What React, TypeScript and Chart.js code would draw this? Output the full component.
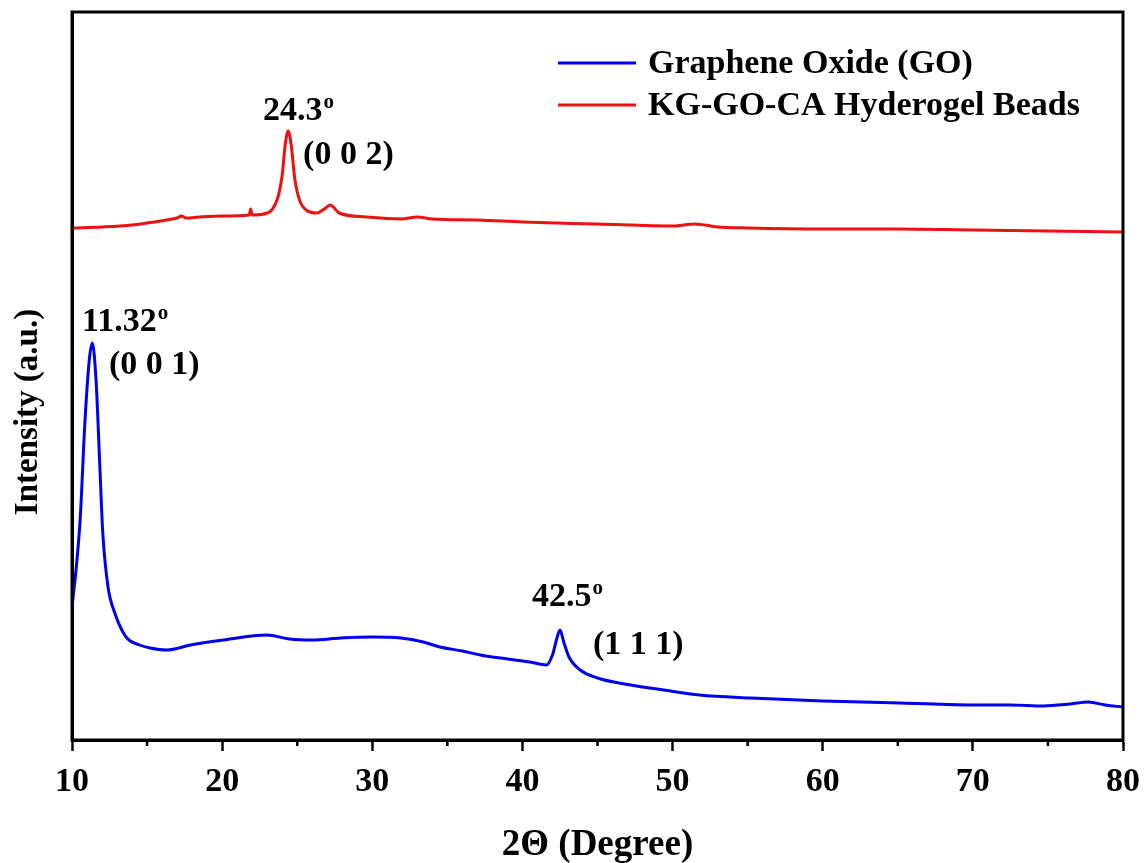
import React, { useEffect, useRef } from "react";
import { Chart, registerables } from "chart.js";

Chart.register(...registerables);

// 2θ (degree) and intensity (a.u.) for Graphene Oxide (GO)
const goTheta = [10.0, 10.3, 10.55, 10.85, 11.15, 11.35, 11.6, 11.85, 12.05, 12.4, 12.85, 13.6, 14.5, 15.2, 16.3, 17.9, 20.1, 23.0, 24.5, 26.0, 27.9, 30.0, 31.9, 33.4, 34.5, 36.0, 37.2, 39.0, 40.5, 41.6, 42.0, 42.3, 42.5, 42.75, 43.1, 43.85, 45.0, 47.2, 49.4, 51.8, 55.2, 60.0, 65.2, 70.0, 72.5, 74.7, 76.5, 77.7, 78.8, 80.0];
const goIntensity = [133, 175, 222, 315, 380, 397, 360, 275, 207, 153, 127, 103, 95, 92, 90, 95, 100, 105, 101, 100, 102, 103, 102, 98, 93, 89, 85, 81, 78, 75, 85, 102, 110, 98, 83, 70, 62, 55, 50, 45, 42, 39, 37, 35, 35, 34, 36, 38, 35, 33];

// 2θ (degree) and intensity (a.u.) for KG-GO-CA Hyderogel Beads
const kgTheta = [10.0, 12.0, 14.0, 16.3, 17.0, 17.3, 17.6, 18.5, 20.0, 21.8, 21.9, 22.0, 23.0, 23.3, 23.7, 24.0, 24.2, 24.4, 24.6, 24.85, 25.2, 25.6, 26.3, 26.8, 27.2, 27.8, 29.6, 31.9, 33.0, 34.0, 37.0, 40.0, 45.0, 50.0, 51.5, 53.0, 55.0, 60.0, 65.0, 70.0, 75.0, 80.0];
const kgIntensity = [512, 513, 515, 520, 522, 524, 522, 523, 524, 525, 531, 525, 527, 530, 542, 565, 595, 609, 595, 560, 538, 530, 527, 531, 535, 527, 523, 521, 523, 521, 520, 518, 516, 514, 516, 513, 512, 511, 511, 510, 509, 508];

const seriesLabels = ["Graphene Oxide (GO)", "KG-GO-CA Hyderogel Beads"];
const seriesColors = ["#0000F0", "#EE1111"];

const majorTicks = [10, 20, 30, 40, 50, 60, 70, 80];
const minorTicks = [15, 25, 35, 45, 55, 65, 75];

// peak annotations: main text, superscript, anchor (2θ, intensity) = text left / baseline
const annoText = ["24.3", "(0 0 2)", "11.32", "(0 0 1)", "42.5", "(1 1 1)"];
const annoSup = ["o", "", "o", "", "o", ""];
const annoTheta = [22.72, 25.39, 10.67, 12.46, 40.64, 44.7];
const annoIntensity = [620, 576, 409, 366, 134, 86];

const FONT = "'Liberation Serif', 'Times New Roman', serif";

const overlay = {
  id: "overlay",
  afterDraw(chart: any) {
    const { ctx, chartArea: a, scales } = chart;
    const x = scales.x;
    const y = scales.y;
    ctx.save();
    // frame
    ctx.strokeStyle = "#000";
    ctx.lineWidth = 3;
    ctx.strokeRect(a.left, a.top, a.right - a.left, a.bottom - a.top);
    // minor ticks
    ctx.lineWidth = 2.5;
    for (const v of minorTicks) {
      const px = x.getPixelForValue(v);
      ctx.beginPath();
      ctx.moveTo(px, a.bottom);
      ctx.lineTo(px, a.bottom + 6);
      ctx.stroke();
    }
    // annotations
    ctx.fillStyle = "#000";
    ctx.textAlign = "left";
    ctx.textBaseline = "alphabetic";
    for (let i = 0; i < annoText.length; i++) {
      const px = x.getPixelForValue(annoTheta[i]);
      const py = y.getPixelForValue(annoIntensity[i]);
      ctx.font = `bold 34px ${FONT}`;
      ctx.fillText(annoText[i], px, py);
      if (annoSup[i]) {
        const w = ctx.measureText(annoText[i]).width;
        ctx.font = `bold 21px ${FONT}`;
        ctx.fillText(annoSup[i], px + w + 1, py - 12);
      }
    }
    // legend
    const ds = chart.data.datasets;
    const rows = [63, 105];
    for (let i = 0; i < ds.length; i++) {
      ctx.strokeStyle = ds[i].borderColor;
      ctx.lineWidth = 3;
      ctx.beginPath();
      ctx.moveTo(558, rows[i]);
      ctx.lineTo(636, rows[i]);
      ctx.stroke();
      ctx.fillStyle = "#000";
      ctx.font = `bold 34px ${FONT}`;
      ctx.textBaseline = "middle";
      ctx.fillText(ds[i].label, 648, rows[i] + 1);
    }
    // axis titles
    ctx.textBaseline = "alphabetic";
    ctx.textAlign = "center";
    ctx.font = `bold 37px ${FONT}`;
    ctx.fillText("2\u0398 (Degree)", (a.left + a.right) / 2, 855);
    ctx.save();
    ctx.translate(37, 412);
    ctx.rotate(-Math.PI / 2);
    ctx.font = `bold 33px ${FONT}`;
    ctx.fillText("Intensity (a.u.)", 0, 0);
    ctx.restore();
    ctx.restore();
  },
};

export default function App() {
  const ref = useRef<HTMLCanvasElement | null>(null);
  useEffect(() => {
    if (!ref.current) return;
    const chart = new Chart(ref.current, {
      type: "line",
      data: {
        datasets: [
          {
            label: seriesLabels[0],
            data: goTheta.map((t, i) => ({ x: t, y: goIntensity[i] })),
            borderColor: seriesColors[0],
            borderWidth: 3,
            pointRadius: 0,
            cubicInterpolationMode: "monotone",
            fill: false,
          },
          {
            label: seriesLabels[1],
            data: kgTheta.map((t, i) => ({ x: t, y: kgIntensity[i] })),
            borderColor: seriesColors[1],
            borderWidth: 3,
            pointRadius: 0,
            cubicInterpolationMode: "monotone",
            fill: false,
          },
        ],
      },
      options: {
        animation: false,
        responsive: false,
        devicePixelRatio: 1,
        layout: { padding: { left: 0, right: 21, top: 12, bottom: 0 } },
        plugins: { legend: { display: false }, tooltip: { enabled: false } },
        scales: {
          x: {
            type: "linear",
            min: 10,
            max: 80,
            afterBuildTicks: (s: any) => {
              s.ticks = majorTicks.map((v) => ({ value: v }));
            },
            afterFit: (s: any) => {
              s.height = 123;
              s.paddingLeft = 0;
              s.paddingRight = 0;
            },
            grid: {
              drawOnChartArea: false,
              drawTicks: true,
              tickLength: 11,
              tickWidth: 2.5,
              tickColor: "#000",
            },
            border: { display: true, color: "#000", width: 3 },
            ticks: {
              autoSkip: false,
              maxRotation: 0,
              padding: 11,
              color: "#000",
              font: { family: FONT, weight: "bold", size: 34 },
            },
          },
          y: {
            type: "linear",
            min: 0,
            max: 728,
            afterFit: (s: any) => {
              s.width = 72;
              s.paddingTop = 0;
              s.paddingBottom = 0;
            },
            grid: { display: false, drawTicks: false },
            border: { display: true, color: "#000", width: 3 },
            ticks: { display: false },
          },
        },
      },
      plugins: [overlay],
    } as any);
    return () => chart.destroy();
  }, []);
  return (
    <div style={{ position: "absolute", left: 0, top: 0, width: 1144, height: 863, background: "#fff" }}>
      <canvas ref={ref} width={1144} height={863} style={{ width: 1144, height: 863 }} />
    </div>
  );
}
